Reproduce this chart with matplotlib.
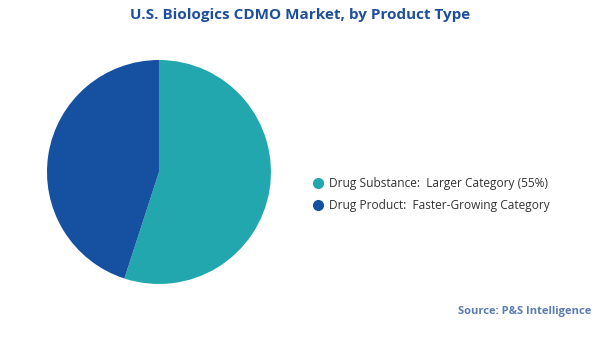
import matplotlib.pyplot as plt
from matplotlib.lines import Line2D

plt.rcParams['font.family'] = ['Open Sans', 'DejaVu Sans']

# data
labels = ['Drug Substance:  Larger Category (55%)', 'Drug Product:  Faster-Growing Category']
shares = [55, 45]
colors = ['#22a7ae', '#1551a0']

fig = plt.figure(figsize=(6, 3.37), dpi=100)

# pie axes placed so the pie sits left of centre
ax = fig.add_axes([0.265 - 0.1867, 0.4896 - 0.3323, 0.3733, 0.6647])
ax.pie(shares, colors=colors, startangle=90, counterclock=False,
       wedgeprops=dict(linewidth=0))
ax.set_xlim(-1, 1)
ax.set_ylim(-1, 1)
ax.set_aspect('equal')

fig.text(0.5, 0.955, 'U.S. Biologics CDMO Market, by Product Type',
         ha='center', va='center', fontsize=11, fontweight='bold', color='#1f4f9c')

handles = [Line2D([], [], marker='o', linestyle='', markersize=7,
                  markerfacecolor=c, markeredgecolor=c) for c in colors]
fig.legend(handles, labels, loc='center left', bbox_to_anchor=(0.5, 0.422),
           frameon=False, fontsize=8.6, handletextpad=0.35, labelspacing=0.75,
           labelcolor='#333333', handlelength=1.2)

fig.text(0.985, 0.075, 'Source: P&S Intelligence', ha='right', va='center',
         fontsize=8, fontweight='bold', color='#5b7bb2')

fig.savefig('out.png', dpi=100)
